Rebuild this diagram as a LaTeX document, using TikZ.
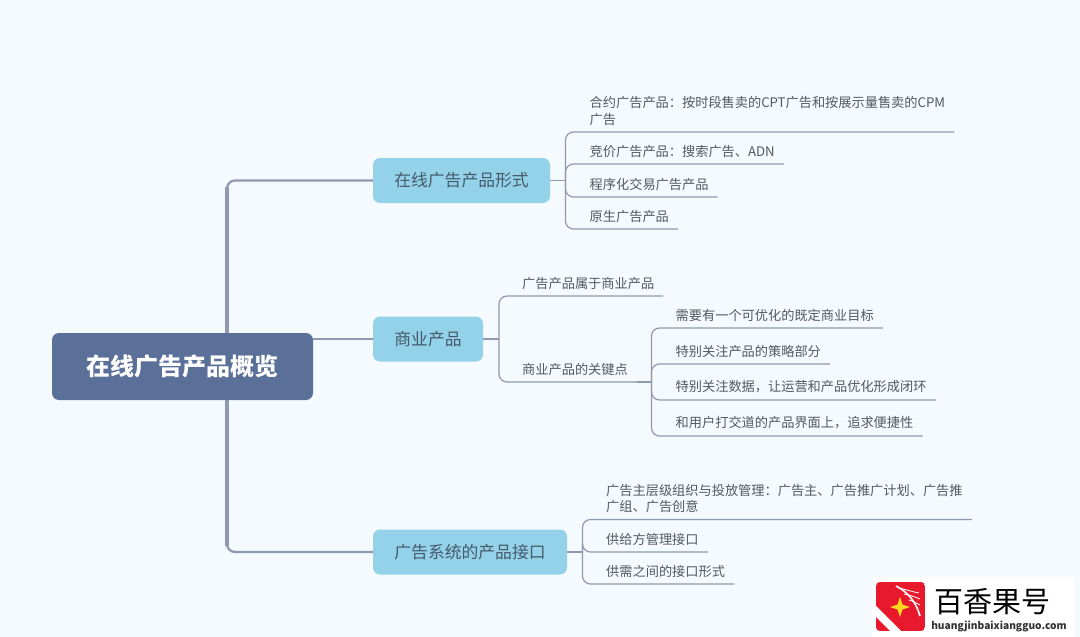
\documentclass[tikz,border=0pt]{standalone}
\usepackage{fontspec}
\setmainfont{Noto Sans CJK SC}
\definecolor{pagebg}{HTML}{F5FAFF}
\definecolor{rootblue}{HTML}{5A7099}
\definecolor{topicblue}{HTML}{93D2E8}
\definecolor{linegrey}{HTML}{9199AF}
\definecolor{topictext}{HTML}{465A6C}
\definecolor{itemtext}{HTML}{55595F}
\definecolor{logored}{HTML}{E8192C}
\definecolor{logostar}{HTML}{FFD81E}
\tikzset{
  root/.style={rectangle,rounded corners=7pt,fill=rootblue,text=white,minimum width=261pt,minimum height=67pt,inner sep=0pt,font=\fontsize{24}{28}\selectfont\bfseries},
  topic/.style={rectangle,rounded corners=7pt,fill=topicblue,text=topictext,minimum height=45pt,inner sep=0pt,font=\fontsize{16.8}{20}\selectfont},
  item/.style={anchor=south west,inner xsep=9pt,inner ysep=6.5pt,align=left,text=itemtext,font=\fontsize{13.2}{16.5}\selectfont},
  branch/.style={draw=linegrey,line width=1.2pt,rounded corners=8pt},
  trunk/.style={draw=linegrey,line width=2.2pt,rounded corners=8pt},
}
\begin{document}
\begin{tikzpicture}[x=1pt,y=-1pt]
  \fill[pagebg] (0,0) rectangle (1080,637);
  \useasboundingbox (0,0) rectangle (1080,637);

  \coordinate (trunktop) at (227,333);
  \coordinate (trunkbot) at (227,400);
  \coordinate (bus1) at (565.5,180.5);
  \coordinate (bus2) at (499,339);
  \coordinate (bus3) at (651.5,382);
  \coordinate (bus4) at (582.5,552);

  \node[root] (root) at (182.5,366.5) {在线广告产品概览};
  \node[topic,minimum width=177pt] (form) at (461.5,180.5) {在线广告产品形式};
  \node[topic,minimum width=110pt] (biz) at (428,339) {商业产品};
  \node[topic,minimum width=194pt] (api) at (470,552) {广告系统的产品接口};

  \node[item] (f1) at (580.5,132) {合约广告产品：按时段售卖的CPT广告和按展示量售卖的CPM\\广告};
  \node[item] (f2) at (580.5,164) {竞价广告产品：搜索广告、ADN};
  \node[item] (f3) at (580.5,197) {程序化交易广告产品};
  \node[item] (f4) at (580.5,229) {原生广告产品};

  \node[item] (b1) at (513,296) {广告产品属于商业产品};
  \node[item] (b2) at (513,382) {商业产品的关键点};

  \node[item] (k1) at (666.5,328) {需要有一个可优化的既定商业目标};
  \node[item] (k2) at (666.5,364) {特别关注产品的策略部分};
  \node[item] (k3) at (666.5,400) {特别关注数据，让运营和产品优化形成闭环};
  \node[item] (k4) at (666.5,436) {和用户打交道的产品界面上，追求便捷性};

  \node[item] (a1) at (597,519.5) {广告主层级组织与投放管理：广告主、广告推广计划、广告推\\广组、广告创意};
  \node[item] (a2) at (597,552) {供给方管理接口};
  \node[item] (a3) at (597,584) {供需之间的接口形式};

  % trunk from the root to the three topics
  \draw[trunk] (trunktop) |- (form.west);
  \draw[trunk] (trunkbot) |- (api.west);
  \draw[linegrey,line width=3.4pt] (227,187) -- (trunktop);
  \draw[linegrey,line width=3.4pt] (trunkbot) -- (227,546);
  \draw[trunk] (root.east |- biz.west) -- (biz.west);

  \draw[branch] (form.east) -- (bus1);
  \draw[branch] (biz.east) -- (bus2);
  \draw[branch] (api.east) -- (bus4);
  \foreach \p in {f1,f2,f3,f4}{ \draw[branch] (bus1) |- (\p.south east); }
  \foreach \p in {b1,b2}{ \draw[branch] (bus2) |- (\p.south east); }
  \foreach \p in {k1,k2,k3,k4}{ \draw[branch] (bus3) |- (\p.south east); }
  \foreach \p in {a1,a2,a3}{ \draw[branch] (bus4) |- (\p.south east); }
  \draw[branch] (b2.south east) -- (bus3);

  % logo in the corner
  \fill[white] (872,577) rectangle (1075,637);
  \begin{scope}
    \clip[rounded corners=4pt] (876,582) rectangle (925,631);
    \fill[logored] (876,582) rectangle (925,631);
    \fill[white] (876,606) -- (901,631) -- (890,631) -- (876,617) -- cycle;
    \draw[white,line width=1.6pt] (896,586) .. controls (908,592) and (916,602) .. (920,616);
    \draw[white,line width=.8pt] (899,588) .. controls (908,590) and (913,592) .. (919,593);
    \draw[white,line width=.8pt] (904,594) .. controls (910,595) and (915,597) .. (920,599);
    \draw[white,line width=.8pt] (909,600) .. controls (913,601) and (916,603) .. (920,605);
    \fill[logostar] (900,597) -- (902.5,604.5) -- (910,607) -- (902.5,609.5) -- (900,617) -- (897.5,609.5) -- (890,607) -- (897.5,604.5) -- cycle;
  \end{scope}
  \node[text=black,inner sep=0pt,font=\fontsize{29}{34}\selectfont] (brand) at (992,602) {百香果号};
  \node[text=black!80,inner sep=0pt,font=\fontsize{10.2}{12}\selectfont\bfseries] (site) at (999,626) {huangjinbaixiangguo.com};
\end{tikzpicture}
\end{document}
